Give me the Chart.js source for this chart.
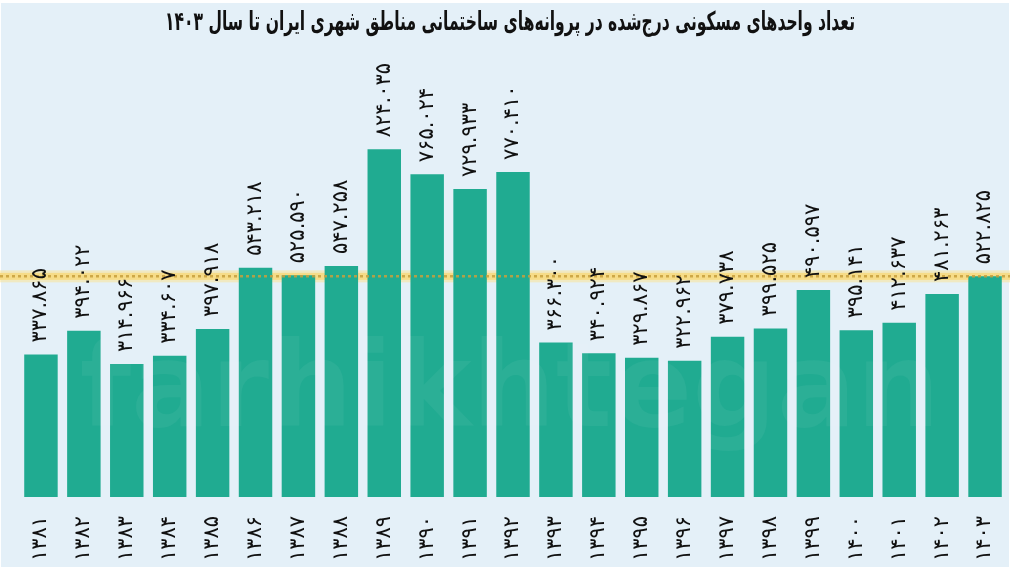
<!DOCTYPE html>
<html lang="fa">
<head>
<meta charset="utf-8">
<script src="https://cdn.jsdelivr.net/npm/chart.js@4"></script>
<style>
  html, body { margin: 0; padding: 0; background: #ffffff; }
  .wrap { position: relative; width: 1018px; height: 575px; overflow: hidden; }
  .frame { position: absolute; left: 1px; top: 3px; width: 1008px; height: 564px; background: #e4f0f8; }
  canvas { position: absolute; left: 0; top: 0; }
</style>
</head>
<body>
<div class="wrap">
  <div class="frame"></div>
  <canvas id="housingChart" width="1018" height="575"></canvas>
</div>
<script>
// ===== DATA =====
const years = [1381, 1382, 1383, 1384, 1385, 1386, 1387, 1388, 1389, 1390, 1391, 1392,
               1393, 1394, 1395, 1396, 1397, 1398, 1399, 1400, 1401, 1402, 1403];
const units = [337865, 394022, 314966, 334607, 397918, 543218, 525590, 547258, 824035, 765024, 729933, 770410,
               366300, 340924, 329867, 322962, 379738, 399525, 490597, 395141, 412637, 481263, 522825];
const titleText = 'تعداد واحدهای مسکونی درج‌شده در پروانه‌های ساختمانی مناطق شهری ایران تا سال ۱۴۰۳';
const refValue = units[units.length - 1];   // dotted line at 1403 level

const faDigits = '۰۱۲۳۴۵۶۷۸۹';
const toFa = s => String(s).replace(/\d/g, d => faDigits[d]);
const fmtFa = v => toFa(v.toString().replace(/\B(?=(\d{3})+(?!\d))/g, '.'));

const FONT = "'DejaVu Sans', sans-serif";

// ===== PLUGINS =====
const decor = {
  id: 'decor',
  beforeDatasetsDraw(chart) {
    const { ctx, scales: { y } } = chart;
    // reference line (yellow band)
    const py = y.getPixelForValue(refValue);
    ctx.save();
    ctx.fillStyle = 'rgba(250, 228, 150, 0.55)';
    ctx.fillRect(0, py - 6, 1010, 12);
    ctx.fillStyle = 'rgba(247, 218, 130, 0.9)';
    ctx.fillRect(0, py - 3.5, 1010, 7);
    ctx.restore();
  },
  afterDatasetsDraw(chart) {
    const { ctx, scales: { y } } = chart;
    const py = y.getPixelForValue(refValue);

    // watermark
    ctx.save();
    ctx.font = `bold 118px ${FONT}`;
    ctx.fillStyle = 'rgba(255,255,255,0.05)';
    ctx.textAlign = 'center';
    ctx.textBaseline = 'middle';
    ctx.fillText('farhikhtegan', 510, 395);
    ctx.restore();

    // dots on the reference line
    ctx.save();
    ctx.strokeStyle = 'rgba(200, 160, 60, 0.85)';
    ctx.lineWidth = 2.5;
    ctx.setLineDash([3, 3]);
    ctx.beginPath();
    ctx.moveTo(0, py);
    ctx.lineTo(1010, py);
    ctx.stroke();
    ctx.restore();

    // value labels above bars and year labels below
    const meta = chart.getDatasetMeta(0);
    ctx.save();
    ctx.fillStyle = '#111';
    ctx.textAlign = 'left';
    ctx.textBaseline = 'middle';
    ctx.font = `21px ${FONT}`;
    meta.data.forEach((bar, i) => {
      ctx.save();
      ctx.translate(bar.x, bar.y - 12);
      ctx.rotate(-Math.PI / 2);
      ctx.fillText(fmtFa(units[i]), 0, 0);
      ctx.restore();

      ctx.save();
      ctx.translate(bar.x, 561);
      ctx.rotate(-Math.PI / 2);
      ctx.fillText(toFa(years[i]), 0, 0);
      ctx.restore();
    });
    ctx.restore();

    // title (DejaVu Arabic is wide, so squeeze it horizontally)
    ctx.save();
    ctx.font = `bold 26px ${FONT}`;
    ctx.fillStyle = '#111';
    ctx.textAlign = 'center';
    ctx.textBaseline = 'middle';
    ctx.direction = 'rtl';
    const w = ctx.measureText(titleText).width;
    ctx.translate(510, 23);
    ctx.scale(690 / w, 1);
    ctx.fillText(titleText, 0, 0);
    ctx.restore();
  }
};

// ===== CHART =====
new Chart(document.getElementById('housingChart'), {
  type: 'bar',
  data: {
    labels: years.map(toFa),
    datasets: [{
      data: units,
      backgroundColor: '#20ab91',
      borderWidth: 0,
      barPercentage: 0.78,
      categoryPercentage: 1
    }]
  },
  options: {
    responsive: false,
    animation: false,
    layout: { padding: { left: 19.5, right: 11.5, top: 75, bottom: 78 } },
    scales: {
      x: { display: false },
      y: { display: false, min: 0, max: 1000000 }
    },
    plugins: {
      legend: { display: false },
      tooltip: { enabled: false }
    }
  },
  plugins: [decor]
});
</script>
</body>
</html>
